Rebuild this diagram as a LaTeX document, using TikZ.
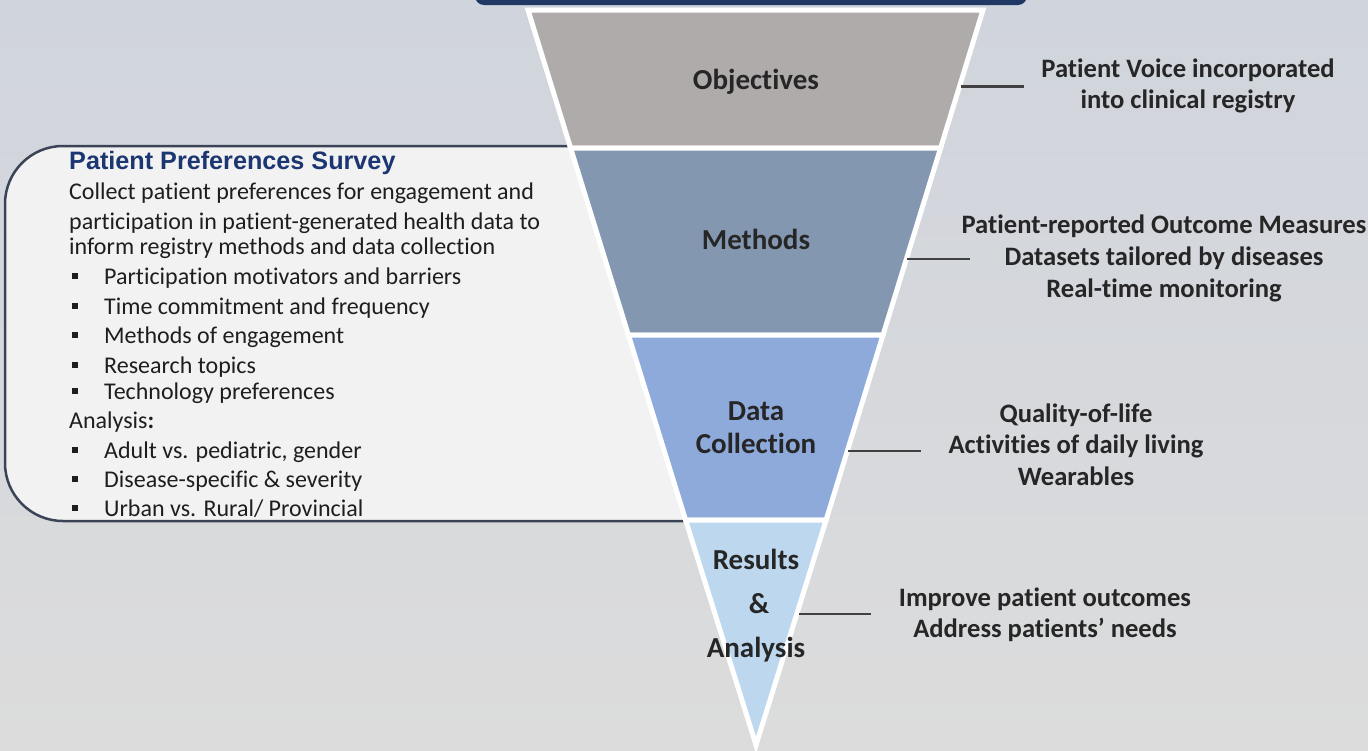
\documentclass[tikz,border=0pt]{standalone}
\usepackage{fontspec}
\setmainfont{Carlito}[Ligatures=NoCommon, RawFeature={-liga;-clig;-calt;-dlig}]
\newfontfamily\headfont{Liberation Sans}
\definecolor{bgtop}{HTML}{D0D4DC}
\definecolor{bgbot}{HTML}{DCDCDC}
\definecolor{navy}{HTML}{203864}
\definecolor{headblue}{HTML}{1C3672}
\definecolor{boxfill}{HTML}{F2F2F2}
\definecolor{boxline}{HTML}{3A4456}
\definecolor{txt}{HTML}{262626}
\definecolor{bodyc}{HTML}{1E1E1E}
\definecolor{cObj}{HTML}{AFABAB}
\definecolor{cMet}{HTML}{8497B0}
\definecolor{cDat}{HTML}{8EAADB}
\definecolor{cRes}{HTML}{BDD7EE}
\definecolor{connc}{HTML}{404040}
\begin{document}
\begin{tikzpicture}[x=1pt,y=-1pt,
  seg/.style={draw=white, line width=5pt, line join=miter},
  lab/.style={font=\bfseries\fontsize{29}{34}\selectfont, text=txt, anchor=base, inner sep=0pt},
  sidetxt/.style={font=\bfseries\fontsize{26.6}{32}\selectfont, text=txt, anchor=base, inner sep=0pt},
  bodytxt/.style={font=\fontsize{24}{28}\selectfont, text=bodyc, anchor=base west, inner sep=0pt},
  headtxt/.style={font=\headfont\bfseries\fontsize{25.2}{30}\selectfont, text=headblue, anchor=base west, inner sep=0pt},
  bul/.style={fill=bodyc, draw=none, minimum size=6pt, inner sep=0pt},
  connline/.style={draw=connc, line width=2.2pt}]
\useasboundingbox (0,0) rectangle (1368,750);
% background
\shade[top color=bgtop, bottom color=bgbot] (0,0) rectangle (1368,750);
% top bar
\fill[navy, rounded corners=9pt] (475,-20) rectangle (1027,5);
% left box
\draw[draw=boxline, fill=boxfill, line width=2.5pt, rounded corners=58pt]
  (760,146) -- (5,146) -- (5,521) -- (760,521);
% funnel
\path[seg, fill=cObj] (528,10) -- (983,10) -- (940.6,148) -- (570.6,148) -- cycle;
\path[seg, fill=cMet] (570.6,148) -- (940.6,148) -- (883,335) -- (628.4,335) -- cycle;
\path[seg, fill=cDat] (628.4,335) -- (883,335) -- (826.1,520) -- (685.6,520) -- cycle;
\path[seg, fill=cRes] (685.6,520) -- (826.1,520) -- (756,745) -- cycle;
% funnel labels
\node[lab] (objT) at (756,89) {Objectives};
\node[lab] (metT) at (756,249) {Methods};
\node[lab] (datT1) at (756,420) {Data};
\node[lab] (datT2) at (756,453) {Collection};
\node[lab] (resT1) at (756,569) {Results};
\node[lab] (resT2) at (759,613) {\&};
\node[lab] (resT3) at (756,657) {Analysis};
% connectors
\coordinate (objA) at (961,86.5);  \coordinate (objB) at (1024,86.5);
\coordinate (metA) at (907,259);   \coordinate (metB) at (970,259);
\coordinate (datA) at (848,451);   \coordinate (datB) at (921,451);
\coordinate (resA) at (799,614);   \coordinate (resB) at (871,614);
\draw[connline] (objA) -- (objB);
\draw[connline] (metA) -- (metB);
\draw[connline] (datA) -- (datB);
\draw[connline] (resA) -- (resB);
% right texts
\node[sidetxt] (o1) at (1188,77) {Patient Voice incorporated};
\node[sidetxt] (o2) at (1188,108) {into clinical registry};
\node[sidetxt] (m1) at (1164,233) {Patient-reported Outcome Measures};
\node[sidetxt] (m2) at (1164,265) {Datasets tailored by diseases};
\node[sidetxt] (m3) at (1164,297) {Real-time monitoring};
\node[sidetxt] (d1) at (1076,422) {Quality-of-life};
\node[sidetxt] (d2) at (1076,453) {Activities of daily living};
\node[sidetxt] (d3) at (1076,485) {Wearables};
\node[sidetxt] (r1) at (1045,606) {Improve patient outcomes};
\node[sidetxt] (r2) at (1045,637) {Address patients’ needs};
% left box texts
\node[headtxt] (h) at (69,169) {Patient Preferences Survey};
\node[bodytxt] (b1) at (69,199) {Collect patient preferences for engagement and};
\node[bodytxt] (b2) at (69,229) {participation in patient-generated health data to};
\node[bodytxt] (b3) at (69,254) {inform registry methods and data collection};
\node[bodytxt] (l1) at (104,284) {Participation motivators and barriers};
\node[bodytxt] (l2) at (104,314) {Time commitment and frequency};
\node[bodytxt] (l3) at (104,343) {Methods of engagement};
\node[bodytxt] (l4) at (104,373) {Research topics};
\node[bodytxt] (l5) at (104,399) {Technology preferences};
\node[bodytxt] (an) at (69,428) {Analysis\textbf{:}};
\node[bodytxt] (l6) at (104,458) {Adult vs. pediatric, gender};
\node[bodytxt] (l7) at (104,487) {Disease-specific \& severity};
\node[bodytxt] (l8) at (104,516) {Urban vs. Rural/ Provincial};
\foreach \yb/\nm in {284/s1,314/s2,343/s3,373/s4,399/s5,458/s6,487/s7,516/s8}
  \node[bul] (\nm) at (75,\yb-8) {};
\end{tikzpicture}
\end{document}
